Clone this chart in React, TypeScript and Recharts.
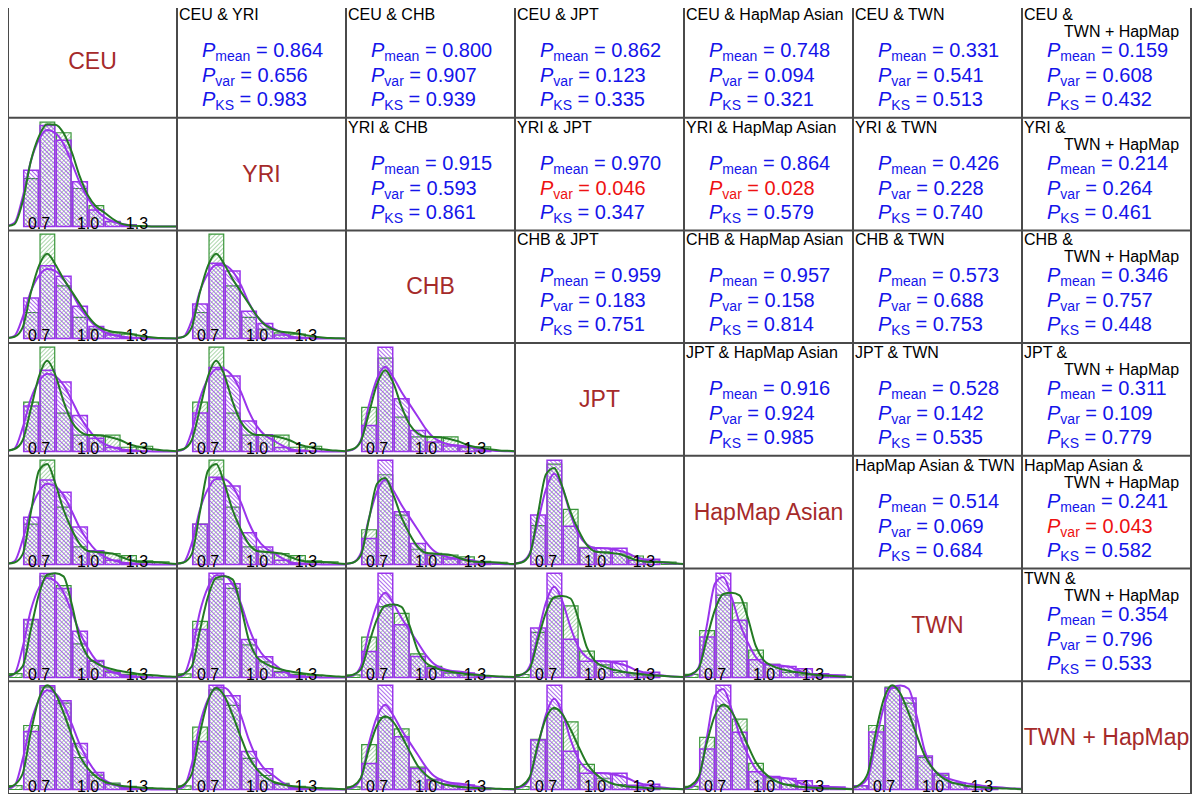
import React from "react";
import { ComposedChart, Bar, Line, XAxis, YAxis } from "recharts";

// populations, in matrix order
const POPS = ["CEU", "YRI", "CHB", "JPT", "HapMap Asian", "TWN", "TWN + HapMap"];

// histogram bins (mid points, width 0.1) and densities per population
const BIN_MID = [0.55, 0.65, 0.75, 0.85, 0.95, 1.05, 1.15, 1.25, 1.35, 1.45];
const HIST_CEU = [0, 1.81, 3.24, 2.77, 1.44, 0.53, 0.16, 0.05, 0, 0];
const HIST_YRI = [0, 1.54, 3.35, 3.01, 1.22, 0.67, 0.16, 0.05, 0, 0];
const HIST_CHB = [0, 1.16, 4.65, 2.35, 0.94, 0.42, 0.25, 0.2, 0.03, 0];
const HIST_JPT = [0, 1.97, 4.16, 1.53, 0.65, 0.65, 0.65, 0.17, 0.21, 0];
const HIST_HMA = [0, 1.55, 4.0, 2.2, 0.68, 0.5, 0.42, 0.34, 0.14, 0.1];
const HIST_TWN = [0.12, 1.8, 3.16, 2.86, 1.05, 0.5, 0.2, 0.1, 0.05, 0];
const HIST_TWNH = [0.12, 2.0, 3.2, 2.7, 1.0, 0.45, 0.2, 0.1, 0.05, 0];

// density curves, read at these x values
const CURVE_X = [
  0.5, 0.55, 0.6, 0.65, 0.7, 0.75, 0.8, 0.85, 0.9, 0.95, 1.0,
  1.05, 1.1, 1.15, 1.2, 1.25, 1.3, 1.35, 1.4, 1.45, 1.5, 1.55,
];
const DENS_CEU = [0.01, 0.12, 0.95, 2.1, 2.8, 3.1, 3.0, 2.65, 2.05, 1.4, 0.9, 0.53, 0.3, 0.17, 0.09, 0.05, 0.02, 0.01, 0, 0, 0, 0];
const DENS_YRI = [0.01, 0.08, 0.8, 2.1, 2.9, 3.28, 3.27, 3.0, 2.4, 1.6, 1.0, 0.64, 0.45, 0.25, 0.1, 0.04, 0.02, 0.01, 0, 0, 0, 0];
const DENS_CHB = [0.02, 0.08, 0.5, 2.05, 3.25, 3.78, 3.3, 2.65, 2.1, 1.55, 1.0, 0.6, 0.4, 0.3, 0.27, 0.22, 0.15, 0.09, 0.05, 0.02, 0.01, 0];
const DENS_JPT = [0.03, 0.1, 0.45, 1.7, 3.0, 3.62, 3.05, 2.0, 1.2, 0.8, 0.66, 0.65, 0.62, 0.55, 0.45, 0.3, 0.2, 0.14, 0.09, 0.05, 0.03, 0.01];
const DENS_HMA = [0.03, 0.08, 0.4, 2.0, 3.6, 3.85, 3.1, 2.1, 1.35, 0.78, 0.52, 0.48, 0.46, 0.42, 0.3, 0.18, 0.12, 0.1, 0.1, 0.08, 0.04, 0.02];
const DENS_TWN = [0.05, 0.12, 0.35, 1.5, 2.6, 3.2, 3.25, 3.15, 2.3, 1.2, 0.65, 0.45, 0.33, 0.26, 0.2, 0.16, 0.12, 0.09, 0.07, 0.05, 0.03, 0.02];
const DENS_TWNH = [0.05, 0.15, 0.5, 1.8, 2.85, 3.26, 3.0, 2.4, 1.7, 1.05, 0.65, 0.4, 0.25, 0.17, 0.12, 0.09, 0.07, 0.05, 0.04, 0.03, 0.02, 0.01];

const HISTS = [HIST_CEU, HIST_YRI, HIST_CHB, HIST_JPT, HIST_HMA, HIST_TWN, HIST_TWNH];
const DENSITIES = [DENS_CEU, DENS_YRI, DENS_CHB, DENS_JPT, DENS_HMA, DENS_TWN, DENS_TWNH];

const X_TICKS = [0.7, 1.0, 1.3];

// p-values of the upper triangle, row by row (row < col)
const P_MEAN = [0.864, 0.8, 0.862, 0.748, 0.331, 0.159, 0.915, 0.97, 0.864, 0.426, 0.214, 0.959, 0.957, 0.573, 0.346, 0.916, 0.528, 0.311, 0.514, 0.241, 0.354];
const P_VAR = [0.656, 0.907, 0.123, 0.094, 0.541, 0.608, 0.593, 0.046, 0.028, 0.228, 0.264, 0.183, 0.158, 0.688, 0.757, 0.924, 0.142, 0.109, 0.069, 0.043, 0.796];
const P_KS = [0.983, 0.939, 0.335, 0.321, 0.513, 0.432, 0.861, 0.347, 0.579, 0.74, 0.461, 0.751, 0.814, 0.753, 0.448, 0.985, 0.535, 0.779, 0.684, 0.582, 0.533];

const FONT = "'Liberation Sans', Arial, Helvetica, sans-serif";
const N = POPS.length;
const CW = 169;
const CH = 112.7;
const X_DOMAIN: [number, number] = [0.51, 1.545];

const GREEN = "#237a23";
const PURPLE = "#9a34ec";

const upperIndex = (r: number, c: number) => {
  let k = 0;
  for (let i = 0; i < r; i++) k += N - 1 - i;
  return k + (c - r - 1);
};

const renderTick = (props: any) => (
  <text
    key={props.index}
    x={props.x}
    y={CH - 2}
    textAnchor="middle"
    fontSize={16}
    fontFamily={FONT}
    fill="#000"
  >
    {Number(props.payload.value).toFixed(1)}
  </text>
);

const layer: React.CSSProperties = { position: "absolute", left: 0, top: 0 };
const noMargin = { top: 0, right: 0, bottom: 0, left: 0 };

// one chart layer: same axes in every layer so they line up exactly
const Layer = ({
  data,
  yDomain,
  ticks,
  children,
}: {
  data: any[];
  yDomain: [number, number];
  ticks?: boolean;
  children: React.ReactNode;
}) => (
  <div style={layer}>
    <ComposedChart width={CW} height={CH} data={data} margin={noMargin}>
      <XAxis
        type="number"
        dataKey="x"
        domain={X_DOMAIN}
        allowDataOverflow
        ticks={X_TICKS}
        interval={0}
        mirror
        hide={!ticks}
        axisLine={false}
        tickLine={false}
        tick={renderTick}
      />
      <YAxis hide domain={yDomain} allowDataOverflow />
      {children}
    </ComposedChart>
  </div>
);

const PairHist = ({ row, col }: { row: number; col: number }) => {
  // green = row population, purple = column population
  const g = HISTS[row];
  const p = HISTS[col];
  const gd = DENSITIES[row];
  const pd = DENSITIES[col];
  const bins = BIN_MID.map((x, i) => ({ x, g: g[i], p: p[i] }));
  const curve = CURVE_X.map((x, i) => ({ x, g: gd[i], p: pd[i] }));
  const top = Math.max(...g, ...p, ...gd, ...pd);
  const yDomain: [number, number] = [-0.04 * top, 1.04 * top];
  const barW = (0.1 * CW) / (X_DOMAIN[1] - X_DOMAIN[0]);

  return (
    <div style={{ position: "relative", width: CW, height: CH }}>
      <Layer data={bins} yDomain={yDomain}>
        <Bar
          dataKey="g"
          barSize={barW}
          fill="url(#hatchGreen)"
          stroke="#3a963a"
          strokeWidth={1.2}
          isAnimationActive={false}
        />
      </Layer>
      <Layer data={bins} yDomain={yDomain}>
        <Bar
          dataKey="p"
          barSize={barW}
          fill="url(#hatchPurple)"
          stroke={PURPLE}
          strokeWidth={1.5}
          isAnimationActive={false}
        />
      </Layer>
      <Layer data={curve} yDomain={yDomain} ticks>
        <Line
          dataKey="p"
          type="monotone"
          stroke={PURPLE}
          strokeWidth={2}
          dot={false}
          isAnimationActive={false}
        />
        <Line
          dataKey="g"
          type="monotone"
          stroke={GREEN}
          strokeWidth={2}
          dot={false}
          isAnimationActive={false}
        />
      </Layer>
    </div>
  );
};

const PLine = ({ y, sub, value }: { y: number; sub: string; value: number }) => (
  <text
    x={25}
    y={y}
    fontSize={20}
    fontFamily={FONT}
    fill={value < 0.05 ? "#ee1111" : "#1414ea"}
    style={{ whiteSpace: "pre" }}
  >
    <tspan fontStyle="italic">P</tspan>
    <tspan fontSize={14} dy={4}>
      {sub}
    </tspan>
    <tspan dy={-4}>{" = " + value.toFixed(3)}</tspan>
  </text>
);

const PairText = ({ row, col }: { row: number; col: number }) => {
  const k = upperIndex(row, col);
  const twoLines = POPS[col] === "TWN + HapMap";
  return (
    <svg width={CW} height={CH}>
      <text x={2} y={15} fontSize={16} fontFamily={FONT} fill="#000" style={{ whiteSpace: "pre" }}>
        {twoLines ? POPS[row] + " &" : POPS[row] + " & " + POPS[col]}
      </text>
      {twoLines && (
        <text x={42} y={31.7} fontSize={16} fontFamily={FONT} fill="#000">
          {POPS[col]}
        </text>
      )}
      <PLine y={52.3} sub="mean" value={P_MEAN[k]} />
      <PLine y={76.7} sub="var" value={P_VAR[k]} />
      <PLine y={101} sub="KS" value={P_KS[k]} />
    </svg>
  );
};

const DiagLabel = ({ i }: { i: number }) => (
  <svg width={CW} height={CH}>
    <text
      x={CW / 2}
      y={CH / 2 + 8}
      textAnchor="middle"
      fontSize={23}
      fontFamily={FONT}
      fill="#a52a2a"
    >
      {POPS[i]}
    </text>
  </svg>
);

export default function App() {
  const cells = [];
  for (let r = 0; r < N; r++) {
    for (let c = 0; c < N; c++) {
      let content;
      if (r === c) content = <DiagLabel i={r} />;
      else if (r < c) content = <PairText row={r} col={c} />;
      else content = <PairHist row={r} col={c} />;
      cells.push(
        <div
          key={r + "-" + c}
          style={{
            position: "absolute",
            left: c * CW,
            top: r * CH,
            width: CW,
            height: CH,
            overflow: "hidden",
          }}
        >
          {content}
        </div>
      );
    }
  }

  const W = CW * N;
  const H = CH * N;
  const grid = [];
  for (let i = 0; i <= N; i++) {
    grid.push(<line key={"v" + i} x1={i * CW} x2={i * CW} y1={0} y2={H} />);
    grid.push(<line key={"h" + i} x1={0} x2={W} y1={i * CH} y2={i * CH} />);
  }

  return (
    <div
      style={{
        position: "relative",
        width: W,
        height: H,
        marginTop: -3,
        fontFamily: FONT,
        background: "#fff",
      }}
    >
      <svg width={0} height={0} style={{ position: "absolute" }}>
        <defs>
          <pattern
            id="hatchGreen"
            patternUnits="userSpaceOnUse"
            width={3}
            height={3}
            patternTransform="rotate(45)"
          >
            <line x1={0} y1={0} x2={0} y2={3} stroke="#5aae5a" strokeWidth={1} />
          </pattern>
          <pattern
            id="hatchPurple"
            patternUnits="userSpaceOnUse"
            width={3}
            height={3}
            patternTransform="rotate(-45)"
          >
            <line x1={0} y1={0} x2={0} y2={3} stroke="#9848ea" strokeWidth={1.6} />
          </pattern>
        </defs>
      </svg>
      {cells}
      <svg
        width={W}
        height={H}
        style={{ position: "absolute", left: 0, top: 0, overflow: "visible", pointerEvents: "none" }}
      >
        <g stroke="#4a4a4a" strokeWidth={2}>
          {grid}
        </g>
      </svg>
    </div>
  );
}
